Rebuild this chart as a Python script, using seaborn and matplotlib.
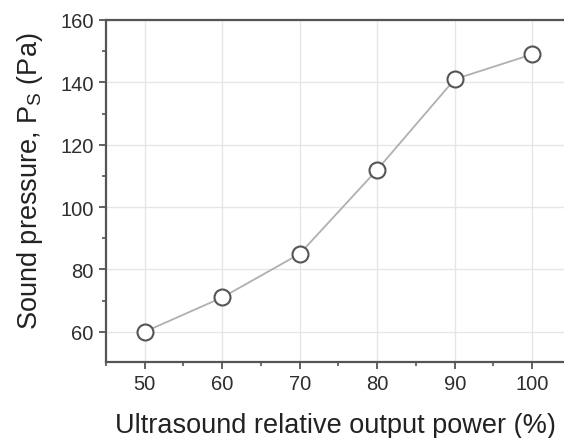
import matplotlib
matplotlib.use("Agg")
import matplotlib.pyplot as plt
from matplotlib.ticker import MultipleLocator
import seaborn as sns
import pandas as pd

power = [50, 60, 70, 80, 90, 100]
pressure = [60, 71, 85, 112, 141, 149]
x_ticks = [50, 60, 70, 80, 90, 100]
y_ticks = [60, 80, 100, 120, 140, 160]

sns.set_theme(style="white")
plt.rcParams["font.family"] = ["Liberation Sans", "DejaVu Sans"]
plt.rcParams["mathtext.default"] = "regular"

df = pd.DataFrame({"power": power, "pressure": pressure})

fig = plt.figure(figsize=(5.64, 4.39), dpi=100)
ax = fig.add_axes([106 / 564, 76 / 439, 1 - 106 / 564, 342 / 439])

sns.lineplot(data=df, x="power", y="pressure", ax=ax, color="#b0b0b0",
             linewidth=1.3, marker="o", markersize=11.5,
             markerfacecolor="white", markeredgecolor="#555555",
             markeredgewidth=1.5, zorder=3)

ax.set_xlim(45, 104.1)
ax.set_ylim(50.3, 160)
ax.set_xticks(x_ticks)
ax.set_yticks(y_ticks)
ax.xaxis.set_minor_locator(MultipleLocator(5))
ax.yaxis.set_minor_locator(MultipleLocator(10))
ax.grid(True, which="major", color="#e6e6e6", linewidth=1.0)
ax.set_axisbelow(True)

for side in ["left", "bottom", "top"]:
    ax.spines[side].set_color("#555555")
    ax.spines[side].set_linewidth(1.6)
ax.spines["right"].set_visible(False)

ax.tick_params(axis="both", which="major", direction="out", length=5,
               width=1.3, color="#555555", labelsize=14.5, labelcolor="#2e2e2e",
               bottom=True, left=True, pad=4)
ax.tick_params(axis="both", which="minor", direction="out", length=3,
               width=1.2, color="#555555", bottom=True, left=True)

ax.set_xlabel("Ultrasound relative output power (%)", fontsize=19.5,
              color="#222222", labelpad=13)
ax.set_ylabel("Sound pressure, P$_S$ (Pa)", fontsize=19.5, color="#222222",
              labelpad=11, y=0.53)

fig.savefig("out.png", dpi=100)
